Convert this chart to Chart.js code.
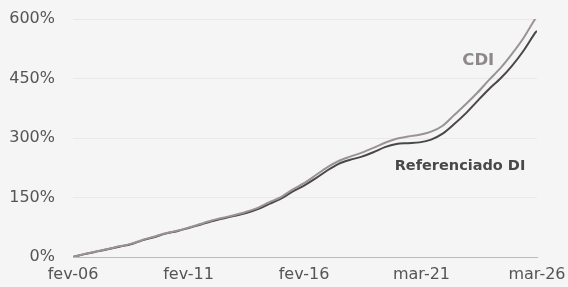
<!DOCTYPE html>
<html><head><meta charset="utf-8">
<script src="https://cdn.jsdelivr.net/npm/chart.js@4/dist/chart.umd.min.js"></script>
<style>
html,body{margin:0;padding:0;background:#f5f5f5;}
#wrap{width:568px;height:287px;position:relative;}
</style></head>
<body><div id="wrap"><canvas id="c"></canvas></div>
<script>
const months = [0,6,12,18,24,30,36,42,48,54,60,66,72,78,84,90,96,102,108,114,120,126,132,138,144,150,156,162,168,174,180,186,192,198,204,210,216,222,228,234,240,241];
const cdi = [0,7.5,14,20,27,33,43,51,60,66,74,83,92,99,106,114,124,138,151,170,186,206,226,242,253,263,275,288,298,304,308,316,331,358,385,414,446,476,512,552,600,606];
const refDI = [0,7.2,13.5,19.5,26,32,42,50,59,65,73,81.5,90,97,104,111,121,134,147,165,180,198,218,235,245,253,264,277,285,287,289,296,311,335,362,393,423,450,482,520,565,570];
const tickMonths = [0,60,120,181,241];
const tickLabels = ['fev-06','fev-11','fev-16','mar-21','mar-26'];
const seriesNames = ['CDI','Referenciado DI'];
const FONT = '"DejaVu Sans", sans-serif';

const labelPlugin = {
  id:'labels',
  afterDatasetsDraw(chart){
    const {ctx, scales:{x,y}} = chart;
    ctx.save();
    ctx.textAlign='center'; ctx.textBaseline='middle';
    ctx.font = 'bold 16.5px '+FONT;
    ctx.fillStyle = '#8e8888';
    ctx.fillText(seriesNames[0], x.getPixelForValue(210.5), y.getPixelForValue(494));
    ctx.font = 'bold 14.5px '+FONT;
    ctx.fillStyle = '#484848';
    ctx.fillText(seriesNames[1], x.getPixelForValue(201), y.getPixelForValue(228));
    ctx.restore();
  }
};

new Chart(document.getElementById('c'), {
  type:'line',
  data:{datasets:[
    {label:seriesNames[0], data:months.map((m,i)=>({x:m,y:cdi[i]})), borderColor:'#9b9393', borderWidth:2, pointRadius:0, tension:0.3, fill:false},
    {label:seriesNames[1], data:months.map((m,i)=>({x:m,y:refDI[i]})), borderColor:'#484848', borderWidth:2, pointRadius:0, tension:0.3, fill:false}
  ]},
  options:{
    responsive:true, maintainAspectRatio:false, animation:false,
    layout:{padding:{top:19,right:31,left:8,bottom:0}},
    plugins:{legend:{display:false}, tooltip:{enabled:false}},
    scales:{
      x:{type:'linear', min:0, max:241,
        afterBuildTicks(s){ s.ticks = tickMonths.map(v=>({value:v})); },
        afterFit(s){ s.height = 30; s.paddingLeft = 0; s.paddingRight = 0; },
        ticks:{autoSkip:false, maxRotation:0, color:'#555', font:{family:FONT,size:16}, padding:8,
          callback(v){ const i=tickMonths.indexOf(v); return i>=0?tickLabels[i]:''; }},
        grid:{display:false, drawTicks:false},
        border:{display:true, color:'#bbbbbb', dash:[3,2], width:1}
      },
      y:{min:0, max:600,
        afterFit(s){ s.width = 65; s.paddingTop = 0; s.paddingBottom = 0; },
        ticks:{stepSize:150, color:'#555', font:{family:FONT,size:16}, padding:18,
          callback(v){ return v+'%'; }},
        grid:{color(c){ return c.tick && c.tick.value===0 ? 'rgba(0,0,0,0)' : '#e9e9e9'; }, drawTicks:false, lineWidth:1},
        border:{display:false}
      }
    }
  },
  plugins:[labelPlugin]
});
</script></body></html>
